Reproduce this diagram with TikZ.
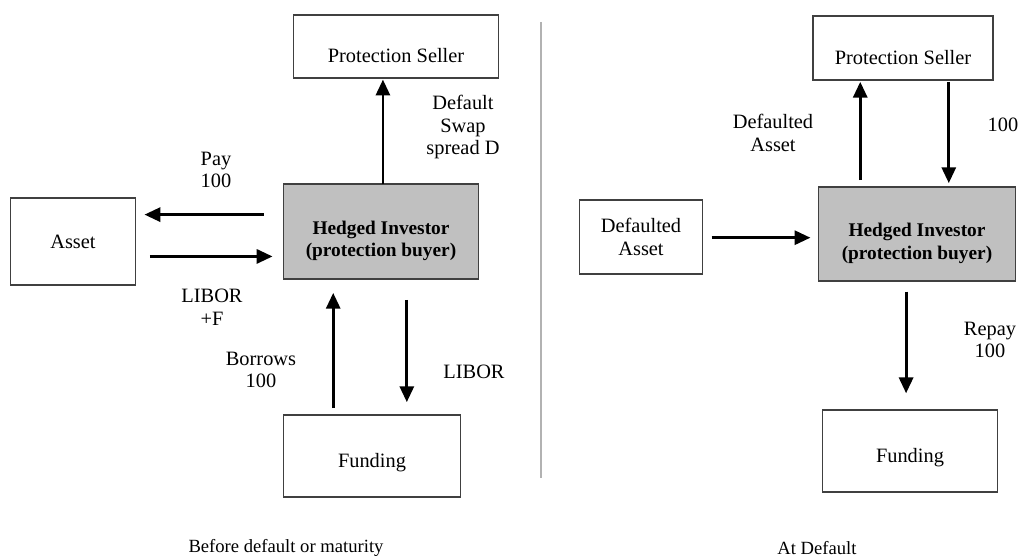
\documentclass[tikz,border=0pt]{standalone}
\usepackage{fontspec}
\setmainfont{Liberation Serif}
\usetikzlibrary{arrows.meta}

\definecolor{boxgray}{HTML}{C0C0C0}
\definecolor{edgegray}{HTML}{404040}

\begin{document}
\begin{tikzpicture}[x=0.02cm,y=-0.02cm,
	box/.style={draw=edgegray,line width=0.8pt,fill=white,inner sep=0pt,outer sep=0pt,align=center,font=\fontsize{11.6}{13}\selectfont},
	low/.style={text height=#1,text depth=0pt},
	hedge/.style={box,fill=boxgray,font=\fontsize{11}{13}\selectfont\bfseries,low=29pt},
	flow/.style={line width=1.6pt,-{Triangle[width=8pt,length=9pt]}},
	lbl/.style={align=center,font=\fontsize{11.6}{13}\selectfont}]
	\useasboundingbox (0,0) rectangle (1019,560);

	% before default or maturity
	\node[box,low=18.6pt,minimum width=116.8pt,minimum height=35.7pt] (sellerL) at (396,46.5) {Protection Seller};
	\node[hedge,minimum width=111.1pt,minimum height=53.9pt] (hedgedL) at (381,231.5) {Hedged Investor\\(protection buyer)};
	\node[box,minimum width=71.4pt,minimum height=49.3pt] (assetL) at (73,241.5) {Asset};
	\node[box,low=13.2pt,minimum width=100.9pt,minimum height=46.5pt] (fundL) at (372,456) {Funding};

	\draw [flow,shorten >=1pt] ([xshift=1.1pt]hedgedL.north) -- ([xshift=1.1pt]hedgedL.north |- sellerL.south);
	\draw [flow,shorten <=11.3pt,shorten >=5pt] ([yshift=9.6pt]hedgedL.west) -- ([yshift=9.6pt]hedgedL.west -| assetL.east);
	\draw [flow,shorten <=8pt,shorten >=6.2pt] ([yshift=-14.2pt]hedgedL.west -| assetL.east) -- ([yshift=-14.2pt]hedgedL.west);
	\draw [flow,shorten <=4pt,shorten >=8pt] ([xshift=-27.2pt]hedgedL.south |- fundL.north) -- ([xshift=-27.2pt]hedgedL.south);
	\draw [flow,shorten <=11.9pt,shorten >=7.4pt] ([xshift=14.7pt]hedgedL.south) -- ([xshift=14.7pt]hedgedL.south |- fundL.north);

	\node[lbl] (payL) at (216,170) {Pay\\100};
	\node[lbl] (spreadL) at (463,127) {Default\\Swap\\spread D};
	\node[lbl] (liborfL) at (212,307) {LIBOR\\+F};
	\node[lbl] (borrowL) at (261,370) {Borrows\\100};
	\node[lbl] (liborL) at (474,372) {LIBOR};

	\draw [gray!60,line width=0.6pt] (541,22) -- (541,478);

	% at default
	\node[box,low=18.6pt,minimum width=102.6pt,minimum height=36.3pt] (sellerR) at (903,48) {Protection Seller};
	\node[hedge,minimum width=112.3pt,minimum height=53.3pt] (hedgedR) at (917,234) {Hedged Investor\\(protection buyer)};
	\node[box,minimum width=70.3pt,minimum height=42pt] (assetR) at (641,237) {Defaulted\\Asset};
	\node[box,low=13.2pt,minimum width=99.8pt,minimum height=46.5pt] (fundR) at (910,451) {Funding};

	\draw [flow,shorten <=4pt,shorten >=1.1pt] ([xshift=-32.3pt]hedgedR.north) -- ([xshift=-32.3pt]hedgedR.north |- sellerR.south);
	\draw [flow,shorten <=1.1pt,shorten >=2.3pt] ([xshift=18.1pt]hedgedR.north |- sellerR.south) -- ([xshift=18.1pt]hedgedR.north);
	\draw [flow,shorten <=5.1pt,shorten >=4.5pt] ([yshift=-0.4pt]assetR.east) -- ([yshift=-0.4pt]assetR.east -| hedgedR.west);
	\draw [flow,shorten <=6.2pt,shorten >=9.6pt] ([xshift=-6.2pt]hedgedR.south) -- ([xshift=-6.2pt]hedgedR.south |- fundR.north);

	\node[lbl] (dassetR) at (773,133) {Defaulted\\Asset};
	\node[lbl] (hundR) at (1003,125) {100};
	\node[lbl] (repayR) at (990,340) {Repay\\100};

	\node[lbl,font=\fontsize{10.6}{13}\selectfont] (capL) at (286,548) {Before default or maturity};
	\node[lbl,font=\fontsize{10.6}{13}\selectfont] (capR) at (817,548) {At Default};
\end{tikzpicture}
\end{document}
